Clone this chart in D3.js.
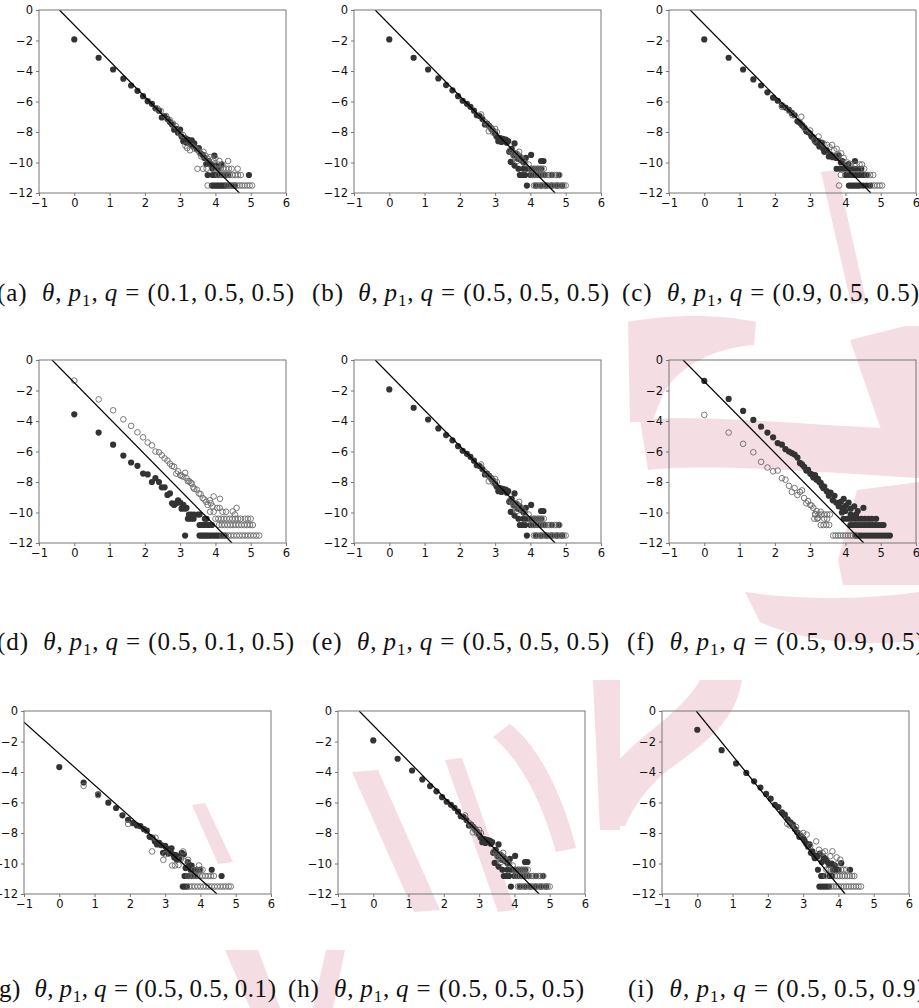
<!DOCTYPE html>
<html>
<head>
<meta charset="utf-8">
<script src="https://cdn.jsdelivr.net/npm/d3@7"></script>
<style>
  body { margin: 0; background: #fff; }
  svg { display: block; }
  .tick text { font-family: "DejaVu Sans", sans-serif; font-size: 11.5px; fill: #111; }
  .tick line { stroke: #777; }
  .caption { font-family: "Liberation Serif", serif; font-size: 25px; fill: #111; white-space: pre; }
</style>
</head>
<body>
<div id="chart-area"></div>
<script>
// Ticks
var xTicks = [-1, 0, 1, 2, 3, 4, 5, 6];
var yTicks = [0, -2, -4, -6, -8, -10, -12];

// Captions
var captionLetters = ["a", "b", "c", "d", "e", "f", "g", "h", "i"];
var captionValues = ["(0.1, 0.5, 0.5)", "(0.5, 0.5, 0.5)", "(0.9, 0.5, 0.5)",
                     "(0.5, 0.1, 0.5)", "(0.5, 0.5, 0.5)", "(0.5, 0.9, 0.5)",
                     "(0.5, 0.5, 0.1)", "(0.5, 0.5, 0.5)", "(0.5, 0.5, 0.9)"];

// Reference line end points (data coords)
var lineFrom = [[-0.42, 0], [-0.4, 0], [-0.4, 0], [-0.63, 0], [-0.4, 0], [-0.6, 0], [-1, -0.74], [-0.4, 0], [-0.03, 0]];
var lineTo   = [[4.68, -12], [4.7, -12], [4.72, -12], [4.47, -12], [4.7, -12], [4.52, -12], [4.47, -12], [4.7, -12], [4.19, -12]];

// Panel (a)
var aDark = [[0,-1.93],[0.69,-3.13],[1.10,-3.9],[1.39,-4.5],[1.61,-4.95],[1.79,-5.3],[1.95,-5.65],[2.08,-5.98],[2.20,-6.15],[2.30,-6.45],[2.40,-6.6],[2.48,-7.05],[2.56,-6.95],[2.64,-7.15],[2.71,-7.35],[2.77,-7.5],[2.83,-7.85],[2.89,-7.8],[2.94,-8.05],[3.00,-7.85],[3.04,-8.3],[3.09,-8.6],[3.14,-8.4],[3.18,-8.7],[3.22,-8.5],[3.26,-8.6],[3.30,-8.8],[3.33,-8.55],[3.37,-8.9],[3.40,-8.75],[3.47,-9.1],[3.53,-9.05],[3.58,-9.4],[3.64,-9.5],[3.69,-9.7],[3.74,-10.1],[3.81,-9.9],[3.87,-10.1],[3.97,-9.55],[3.91,-10.4],[4.01,-10.2],[4.09,-10.4],[4.17,-10.13],
  [3.78,-10.82],[3.92,-10.82],[3.98,-10.82],[4.04,-10.82],[4.12,-10.82],[4.2,-10.82],[4.28,-10.82],[4.36,-10.82],[4.95,-10.82],
  [3.9,-11.51],[3.95,-11.51],[4.0,-11.51],[4.05,-11.51],[4.1,-11.51],[4.15,-11.51],[4.2,-11.51],[4.25,-11.51],[4.3,-11.51],[4.38,-11.51],[4.47,-11.51],[4.56,-11.51]];
var aOpen = [[2.35,-6.45],[2.45,-6.62],[2.6,-6.95],[2.7,-7.2],[2.8,-7.45],[2.88,-7.62],[3.0,-8.1],[3.08,-8.2],[3.15,-8.9],[3.2,-9.05],[3.28,-9.2],[3.35,-8.95],[3.42,-9.1],[3.5,-9.2],[3.55,-9.35],[3.6,-9.6],[3.66,-9.3],[3.72,-9.55],[3.78,-9.75],[3.85,-9.65],[3.93,-9.8],[4.0,-9.72],[4.11,-9.9],[4.36,-9.9],[4.07,-10.13],[4.2,-10.13],
  [3.49,-10.41],[3.65,-10.41],[3.75,-10.41],[3.98,-10.41],[4.06,-10.41],[4.14,-10.41],[4.22,-10.41],[4.3,-10.41],[4.38,-10.41],[4.46,-10.41],[4.63,-10.41],
  [4.08,-10.82],[4.16,-10.82],[4.24,-10.82],[4.32,-10.82],[4.4,-10.82],[4.48,-10.82],[4.56,-10.82],[4.64,-10.82],[4.72,-10.82],
  [3.78,-11.51],[4.34,-11.51],[4.41,-11.51],[4.48,-11.51],[4.55,-11.51],[4.62,-11.51],[4.69,-11.51],[4.76,-11.51],[4.83,-11.51],[4.9,-11.51],[4.97,-11.51],[5.04,-11.51]];

// Panel (b), same run shown again in (e) and (h)
var bDark = [[0,-1.93],[0.69,-3.13],[1.10,-3.9],[1.39,-4.49],[1.61,-4.92],[1.79,-5.27],[1.95,-5.65],[2.08,-5.95],[2.20,-6.15],[2.30,-6.35],[2.40,-6.6],[2.48,-6.9],[2.56,-6.95],[2.64,-7.15],[2.71,-7.5],[2.77,-7.45],[2.83,-7.6],[2.89,-7.75],[2.94,-7.9],[3.00,-8.1],[3.04,-8.3],[3.09,-8.6],[3.14,-8.4],[3.18,-8.65],[3.22,-8.45],[3.26,-8.55],[3.30,-8.5],[3.33,-8.7],[3.37,-8.6],[3.40,-9.3],[3.47,-9.1],[3.55,-8.75],[3.44,-9.96],[3.53,-9.5],[3.58,-9.4],[3.55,-10.2],[3.64,-9.75],[3.69,-9.6],[3.74,-9.85],[3.81,-10.0],[3.87,-9.7],[4.02,-9.5],[4.37,-9.9],[4.3,-9.9],
  [3.66,-10.41],[3.8,-10.41],[3.9,-10.41],[4.0,-10.41],[4.1,-10.41],[4.2,-10.41],[4.3,-10.41],
  [3.7,-10.82],[3.77,-10.82],[3.85,-10.82],[4.0,-10.82],[4.1,-10.82],[4.2,-10.82],[4.3,-10.82],[4.4,-10.82],[4.6,-10.82],[4.8,-10.82],
  [3.9,-11.51],[4.15,-11.51],[4.3,-11.51],[4.45,-11.51],[4.6,-11.51],[4.75,-11.51],[4.9,-11.51]];
var bOpen = [[2.6,-6.85],[2.72,-7.35],[2.78,-7.55],[2.82,-7.95],[2.86,-7.7],[2.9,-7.85],[2.95,-8.05],[3.0,-7.8],[3.05,-8.0],[3.42,-9.2],[3.48,-9.35],[3.52,-9.55],[3.58,-9.7],[3.63,-9.45],[3.68,-9.3],[3.72,-9.65],[3.78,-9.8],[3.62,-9.9],[3.85,-10.05],[3.95,-10.13],
  [4.02,-10.41],[4.08,-10.41],[4.14,-10.41],[4.2,-10.41],[4.26,-10.41],[4.32,-10.41],[4.38,-10.41],
  [4.05,-10.82],[4.12,-10.82],[4.19,-10.82],[4.26,-10.82],[4.33,-10.82],[4.4,-10.82],[4.47,-10.82],[4.54,-10.82],[4.61,-10.82],[4.68,-10.82],[4.75,-10.82],[4.82,-10.82],
  [4.1,-11.51],[4.17,-11.51],[4.24,-11.51],[4.31,-11.51],[4.38,-11.51],[4.45,-11.51],[4.52,-11.51],[4.59,-11.51],[4.66,-11.51],[4.73,-11.51],[4.8,-11.51],[4.87,-11.51],[4.94,-11.51],[5.0,-11.51]];

// Panel (c)
var cDark = [[0,-1.93],[0.69,-3.13],[1.10,-3.9],[1.39,-4.55],[1.61,-4.95],[1.79,-5.4],[1.95,-5.75],[2.08,-5.95],[2.20,-6.25],[2.30,-6.4],[2.40,-6.55],[2.48,-6.75],[2.56,-6.9],[2.64,-7.3],[2.71,-7.4],[2.77,-7.55],[2.83,-7.7],[2.89,-7.95],[2.94,-8.0],[3.00,-8.1],[3.04,-8.3],[3.09,-8.35],[3.14,-8.6],[3.18,-8.7],[3.22,-8.6],[3.26,-8.95],[3.30,-8.9],[3.33,-8.7],[3.37,-9.1],[3.40,-9.3],[3.47,-9.2],[3.53,-9.6],[3.58,-9.5],[3.64,-9.65],[3.69,-9.6],[3.74,-9.7],[3.81,-9.55],[3.87,-10.0],[3.91,-9.9],[4.01,-10.2],[4.09,-10.1],[4.27,-9.9],
  [3.75,-10.41],[3.85,-10.41],[3.95,-10.41],[4.05,-10.41],[4.15,-10.41],[4.25,-10.41],[4.35,-10.41],[4.45,-10.41],
  [4.0,-10.82],[4.1,-10.82],[4.2,-10.82],[4.3,-10.82],[4.4,-10.82],[4.5,-10.82],[4.6,-10.82],
  [4.1,-11.51],[4.16,-11.51],[4.22,-11.51],[4.28,-11.51],[4.34,-11.51],[4.4,-11.51],[4.5,-11.51],[4.6,-11.51],[4.7,-11.51]];
var cOpen = [[2.2,-6.35],[2.4,-6.6],[2.5,-6.9],[2.75,-7.0],[2.85,-7.75],[3.0,-7.9],[3.12,-8.55],[3.24,-8.3],[3.38,-8.75],[3.48,-8.85],[3.55,-9.0],[3.62,-8.85],[3.68,-9.2],[3.75,-9.1],[3.8,-9.5],[3.88,-9.4],[3.95,-9.7],[4.05,-10.0],[4.15,-10.1],[4.28,-10.13],[4.4,-10.13],[4.47,-10.13],
  [4.53,-10.41],
  [3.87,-10.82],[4.62,-10.82],[4.7,-10.82],[4.79,-10.82],
  [3.82,-11.51],[4.75,-11.51],[4.82,-11.51],[4.9,-11.51],[4.97,-11.51],[5.04,-11.51]];

// Panel (d)
var dDark = [[0,-3.56],[0.69,-4.76],[1.10,-5.55],[1.39,-6.27],[1.61,-6.72],[1.79,-6.94],[1.95,-7.45],[2.08,-7.5],[2.20,-8.0],[2.30,-7.75],[2.40,-8.0],[2.48,-8.35],[2.56,-8.35],[2.64,-8.85],[2.71,-8.75],[2.77,-9.4],[2.83,-9.5],[2.89,-9.4],[2.94,-9.2],[3.00,-9.35],[3.04,-9.75],[3.09,-9.5],[3.14,-9.75],[3.18,-9.7],
  [3.22,-10.41],[3.3,-10.41],[3.38,-10.41],[3.25,-10.13],[3.32,-10.13],[3.4,-10.13],[3.5,-10.13],[3.55,-10.13],[3.7,-10.41],[3.75,-10.41],
  [3.55,-10.82],[3.6,-10.82],[3.66,-10.82],[3.72,-10.82],[3.78,-10.82],[3.84,-10.82],[3.9,-10.82],
  [3.14,-11.51],[3.55,-11.51],[3.6,-11.51],[3.65,-11.51],[3.7,-11.51],[3.75,-11.51],[3.8,-11.51],[3.86,-11.51],[3.92,-11.51],[3.98,-11.51],[4.04,-11.51],[4.1,-11.51],[4.18,-11.51],[4.26,-11.51]];
var dOpen = [[0,-1.35],[0.69,-2.58],[1.10,-3.3],[1.39,-3.89],[1.61,-4.32],[1.79,-4.74],[1.95,-5.07],[2.08,-5.41],[2.20,-5.6],[2.30,-6.0],[2.40,-6.05],[2.48,-6.25],[2.56,-6.45],[2.64,-6.6],[2.71,-6.8],[2.77,-6.95],[2.83,-7.0],[2.89,-7.45],[2.94,-7.3],[3.00,-7.55],[3.04,-7.6],[3.09,-7.65],[3.14,-7.4],[3.18,-7.75],[3.22,-7.95],[3.26,-7.95],[3.30,-8.05],[3.33,-8.1],[3.37,-8.35],[3.40,-8.45],[3.47,-8.5],[3.53,-8.75],[3.58,-8.8],[3.64,-9.05],[3.69,-9.15],[3.74,-9.3],[3.78,-9.5],[3.84,-9.2],[3.95,-8.95],[4.13,-9.1],[3.87,-9.4],[3.92,-9.6],
  [3.85,-9.95],[3.95,-9.95],[4.05,-9.7],[4.12,-9.7],[4.2,-9.95],[4.3,-9.95],[4.49,-9.93],[4.6,-9.7],[4.55,-10.13],
  [4.0,-10.41],[4.08,-10.41],[4.16,-10.41],[4.24,-10.41],[4.32,-10.41],[4.4,-10.41],[4.48,-10.41],[4.56,-10.41],[4.64,-10.41],[4.72,-10.41],[4.84,-10.41],[4.92,-10.41],[5.0,-10.41],
  [4.1,-10.82],[4.18,-10.82],[4.26,-10.82],[4.34,-10.82],[4.42,-10.82],[4.5,-10.82],[4.58,-10.82],[4.66,-10.82],[4.74,-10.82],[4.82,-10.82],[4.9,-10.82],[4.98,-10.82],[5.06,-10.82],
  [4.2,-11.51],[4.28,-11.51],[4.36,-11.51],[4.44,-11.51],[4.52,-11.51],[4.6,-11.51],[4.68,-11.51],[4.76,-11.51],[4.84,-11.51],[4.92,-11.51],[5.0,-11.51],[5.08,-11.51],[5.16,-11.51],[5.24,-11.51]];

// Panel (f)
var fDark = [[0,-1.37],[0.69,-2.55],[1.10,-3.34],[1.39,-3.93],[1.61,-4.37],[1.79,-4.76],[1.95,-5.07],[2.08,-5.45],[2.20,-5.55],[2.30,-5.85],[2.40,-6.0],[2.48,-6.1],[2.56,-6.2],[2.64,-6.4],[2.71,-6.75],[2.77,-6.85],[2.83,-7.0],[2.89,-7.25],[2.94,-7.2],[3.00,-7.45],[3.04,-7.5],[3.09,-7.7],[3.14,-7.55],[3.18,-7.85],[3.22,-7.8],[3.26,-8.0],[3.30,-8.05],[3.33,-8.25],[3.37,-8.4],[3.40,-8.3],[3.47,-8.6],[3.53,-8.9],[3.58,-8.7],[3.64,-9.2],[3.69,-8.9],[3.74,-9.35],[3.81,-9.6],[3.87,-9.3],[3.91,-9.7],[3.95,-9.1],[4.01,-9.55],[4.09,-9.35],[4.15,-9.75],[4.25,-9.6],[4.35,-9.9],[4.51,-9.7],[4.15,-10.13],[4.3,-10.13],[3.9,-10.0],[4.0,-9.9],
  [3.95,-10.41],[4.05,-10.41],[4.15,-10.41],[4.25,-10.41],[4.35,-10.41],[4.45,-10.41],[4.55,-10.41],[4.65,-10.41],[4.75,-10.41],[4.87,-10.41],
  [4.14,-10.82],[4.22,-10.82],[4.3,-10.82],[4.38,-10.82],[4.46,-10.82],[4.54,-10.82],[4.62,-10.82],[4.7,-10.82],[4.78,-10.82],[4.86,-10.82],[4.94,-10.82],[5.02,-10.82],[5.08,-10.82],
  [4.3,-11.51],[4.38,-11.51],[4.46,-11.51],[4.54,-11.51],[4.62,-11.51],[4.7,-11.51],[4.78,-11.51],[4.86,-11.51],[4.94,-11.51],[5.02,-11.51],[5.1,-11.51],[5.18,-11.51],[5.26,-11.51]];
var fOpen = [[0,-3.6],[0.69,-4.76],[1.10,-5.5],[1.39,-6.05],[1.61,-6.68],[1.79,-7.05],[1.95,-7.3],[2.08,-7.25],[2.20,-7.75],[2.30,-7.85],[2.40,-8.25],[2.48,-8.65],[2.56,-8.4],[2.64,-8.85],[2.71,-8.65],[2.77,-8.55],[2.83,-9.05],[2.89,-9.4],[2.94,-9.25],[3.00,-9.5],[3.04,-9.55],[3.09,-9.7],[3.14,-10.1],[3.18,-9.9],[3.22,-10.35],[3.3,-9.95],
  [3.15,-10.13],[3.24,-10.13],[3.32,-10.13],[3.4,-10.13],[3.48,-10.13],[3.56,-10.13],
  [3.12,-10.41],[3.2,-10.41],[3.4,-10.41],[3.48,-10.41],
  [3.3,-10.82],[3.38,-10.82],[3.46,-10.82],[3.54,-10.82],
  [3.65,-11.51],[3.72,-11.51],[3.79,-11.51],[3.86,-11.51],[3.93,-11.51],[4.0,-11.51],[4.07,-11.51],[4.14,-11.51],[4.21,-11.51],[4.28,-11.51]];

// Panel (g)
var gDark = [[0,-3.68],[0.69,-4.69],[1.10,-5.46],[1.39,-6.01],[1.61,-6.36],[1.79,-6.84],[1.95,-7.13],[2.08,-7.35],[2.20,-7.5],[2.30,-7.55],[2.40,-7.75],[2.48,-7.85],[2.56,-8.25],[2.64,-8.3],[2.71,-8.55],[2.77,-8.75],[2.83,-8.65],[2.89,-8.8],[2.94,-9.3],[3.00,-8.85],[3.04,-9.0],[3.09,-9.35],[3.14,-9.2],[3.18,-9.0],[3.22,-9.4],[3.26,-9.6],[3.30,-9.45],[3.33,-9.75],[3.37,-9.55],[3.40,-9.65],[3.47,-9.3],[3.53,-9.4],[3.58,-10.3],[3.64,-9.9],[3.69,-10.1],[3.75,-10.13],
  [3.72,-10.41],[3.8,-10.41],[3.9,-10.41],[3.98,-10.41],[4.32,-10.41],
  [3.55,-10.82],[3.62,-10.82],[3.7,-10.82],[3.78,-10.82],[3.86,-10.82],[4.6,-10.82],
  [3.5,-11.51],[3.56,-11.51],[3.62,-11.51]];
var gOpen = [[0.69,-4.91],[1.10,-5.52],[1.95,-7.41],[2.63,-9.21],[2.73,-8.31],[2.95,-9.76],[3.0,-9.4],[3.2,-10.13],[3.28,-10.13],[3.38,-10.1],[3.51,-9.21],[3.55,-9.85],[3.65,-9.76],[3.96,-10.13],[3.45,-9.7],
  [3.82,-10.41],[3.9,-10.41],[4.0,-10.41],[4.06,-10.41],
  [3.66,-10.82],[3.74,-10.82],[3.82,-10.82],[3.9,-10.82],[3.98,-10.82],[4.06,-10.82],[4.14,-10.82],[4.22,-10.82],[4.3,-10.82],[4.38,-10.82],
  [3.68,-11.51],[3.76,-11.51],[3.84,-11.51],[3.92,-11.51],[4.0,-11.51],[4.08,-11.51],[4.16,-11.51],[4.24,-11.51],[4.32,-11.51],[4.4,-11.51],[4.48,-11.51],[4.56,-11.51],[4.64,-11.51],[4.72,-11.51],[4.8,-11.51],[4.86,-11.51]];

// Panel (i)
var iDark = [[0,-1.23],[0.69,-2.57],[1.10,-3.44],[1.39,-4.06],[1.61,-4.61],[1.79,-5.02],[1.95,-5.44],[2.08,-5.75],[2.20,-6.15],[2.30,-6.3],[2.40,-6.65],[2.48,-6.8],[2.56,-7.1],[2.64,-7.3],[2.71,-7.45],[2.77,-7.75],[2.83,-7.95],[2.89,-8.25],[2.94,-8.2],[3.00,-8.35],[3.04,-8.5],[3.09,-8.7],[3.14,-8.9],[3.18,-8.75],[3.22,-9.3],[3.26,-9.2],[3.30,-9.45],[3.33,-9.65],[3.37,-9.5],[3.40,-9.55],[3.47,-9.35],[3.53,-9.9],[3.58,-9.6],[3.64,-9.7],[3.69,-9.9],[3.74,-10.1],[3.81,-10.0],[3.9,-10.13],[4.08,-9.98],
  [3.42,-10.41],[3.85,-10.41],[3.92,-10.41],[4.0,-10.41],[4.33,-10.41],
  [3.51,-10.82],[3.58,-10.82],[3.75,-10.82],[3.82,-10.82],
  [3.46,-11.51],[3.53,-11.51],[3.6,-11.51],[3.67,-11.51],[3.74,-11.51]];
var iOpen = [[2.55,-7.4],[2.62,-7.5],[2.8,-7.6],[2.9,-8.05],[3.0,-8.0],[3.1,-8.1],[3.37,-8.55],[3.2,-8.85],[3.45,-9.1],[3.55,-9.3],[3.62,-9.2],[3.77,-9.52],[3.83,-9.2],[3.95,-9.6],[4.05,-9.75],[3.98,-10.0],
  [3.66,-10.41],[3.72,-10.41],[3.78,-10.41],[4.08,-10.41],[4.15,-10.41],[4.22,-10.41],
  [3.65,-10.82],[3.9,-10.82],[3.97,-10.82],[4.04,-10.82],[4.11,-10.82],[4.18,-10.82],[4.25,-10.82],[4.32,-10.82],[4.39,-10.82],[4.45,-10.82],
  [3.8,-11.51],[3.87,-11.51],[3.94,-11.51],[4.01,-11.51],[4.08,-11.51],[4.15,-11.51],[4.22,-11.51],[4.29,-11.51],[4.36,-11.51],[4.43,-11.51],[4.5,-11.51],[4.57,-11.51],[4.64,-11.51]];

var darkSeries = [aDark, bDark, cDark, dDark, bDark, fDark, gDark, bDark, iDark];
var openSeries = [aOpen, bOpen, cOpen, dOpen, bOpen, fOpen, gOpen, bOpen, iOpen];

// Layout of the 3x3 grid
var panelLeft = [39, 354, 669, 39, 354, 669, 24, 338, 662];
var panelTop = [10, 10, 10, 360, 360, 360, 711, 711, 711];
var captionX = [-3, 312, 622, -3, 312, 627, -10, 288, 628];
var captionY = [301, 301, 301, 650, 650, 650, 997, 997, 997];
var captionW = [297, 297, 297, 297, 297, 297, 286, 296, 297];

var width = 247, height = 183;

var svg = d3.select("#chart-area")
    .append("svg")
    .attr("width", 919)
    .attr("height", 1008);

var defs = svg.append("defs");

// pink watermark sitting behind the figure
var stamp = svg.append("g").attr("fill", "#f4dde3");
[
  "M821,172 L837,170 L866,300 L851,304 Z",
  "M628,322 C670,314 720,314 756,322 L754,345 C715,348 682,364 664,392 L652,422 L630,422 Z",
  "M640,420 C700,414 790,424 919,430 L919,478 C800,470 700,464 648,470 Z",
  "M850,340 L905,326 L919,326 L919,432 L882,432 Z",
  "M857,490 L919,482 L919,585 L843,585 L838,560 Z",
  "M745,592 C800,600 860,600 919,592 L919,640 C860,648 800,640 760,622 Z",
  "M700,680 L742,680 C736,722 702,746 668,770 C648,786 634,806 625,826 L619,826 L619,760 C642,734 682,712 700,680 Z",
  "M192,805 L205,803 L233,862 L218,864 Z",
  "M352,772 L378,770 L440,910 L414,912 Z",
  "M445,760 L462,758 L515,910 L498,912 Z",
  "M493,737 C522,762 542,802 556,852 L576,848 C562,792 538,746 510,724 Z",
  "M593,680 L620,680 L620,830 L600,830 Z",
  "M225,950 L258,950 L280,1008 L250,1008 Z",
  "M326,950 L345,950 L333,1008 L313,1008 Z"
].forEach(function(p) { stamp.append("path").attr("d", p); });

// Scales
var x = d3.scaleLinear().domain([-1, 6]).range([0, width]);
var y = d3.scaleLinear().domain([-12, 0]).range([height, 0]);

darkSeries.forEach(function(dark, i) {
    var g = svg.append("g")
        .attr("transform", "translate(" + panelLeft[i] + "," + panelTop[i] + ")");

    defs.append("clipPath").attr("id", "clip" + i)
        .append("rect").attr("width", width).attr("height", height);

    // X Axis
    var xAxis = g.append("g")
        .attr("transform", "translate(0," + height + ")")
        .call(d3.axisBottom(x).tickValues(xTicks).tickFormat(d3.format("d")).tickSize(3).tickPadding(3));
    xAxis.select(".domain").remove();

    // Y Axis
    var yAxis = g.append("g")
        .call(d3.axisLeft(y).tickValues(yTicks).tickFormat(d3.format("d")).tickSize(3).tickPadding(3));
    yAxis.select(".domain").remove();

    // filled points
    g.append("g").selectAll("circle").data(dark)
        .enter().append("circle")
        .attr("cx", function(d) { return x(d[0]); })
        .attr("cy", function(d) { return y(d[1]); })
        .attr("r", 3.1)
        .attr("fill", "#333");

    // open points
    g.append("g").selectAll("circle").data(openSeries[i])
        .enter().append("circle")
        .attr("cx", function(d) { return x(d[0]); })
        .attr("cy", function(d) { return y(d[1]); })
        .attr("r", 2.8)
        .attr("fill", "none")
        .attr("stroke", "#6a6a6a")
        .attr("stroke-width", 0.9);

    // fitted line
    g.append("line")
        .attr("clip-path", "url(#clip" + i + ")")
        .attr("x1", x(lineFrom[i][0])).attr("y1", y(lineFrom[i][1]))
        .attr("x2", x(lineTo[i][0])).attr("y2", y(lineTo[i][1]))
        .attr("stroke", "#000")
        .attr("stroke-width", 1.2);

    // frame
    g.append("rect")
        .attr("width", width).attr("height", height)
        .attr("fill", "none")
        .attr("stroke", "#777")
        .attr("stroke-width", 1);

    // caption, math commas get a thin space
    var cap = svg.append("text")
        .attr("class", "caption")
        .attr("x", captionX[i])
        .attr("y", captionY[i])
        .attr("textLength", captionW[i])
        .attr("lengthAdjust", "spacing");
    cap.append("tspan").text("(" + captionLetters[i] + ")  ");
    cap.append("tspan").attr("font-style", "italic").text("θ");
    cap.append("tspan").text(",\u2009");
    cap.append("tspan").attr("font-style", "italic").text("p");
    cap.append("tspan").attr("font-size", "17px").attr("dy", 5).text("1");
    cap.append("tspan").attr("dy", -5).text(",\u2009");
    cap.append("tspan").attr("font-style", "italic").text("q");
    cap.append("tspan").text(" = " + captionValues[i].replace(/, /g, ",\u2009"));
});
</script>
</body>
</html>
